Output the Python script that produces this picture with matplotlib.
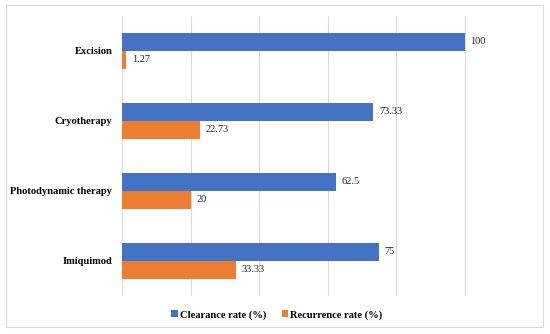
import numpy as np
import matplotlib.pyplot as plt
from matplotlib.patches import Rectangle

categories = ["Excision", "Cryotherapy", "Photodynamic therapy", "Imiquimod"]
clearance = [100, 73.33, 62.5, 75]
recurrence = [1.27, 22.73, 20, 33.33]
clearance_labels = ["100", "73.33", "62.5", "75"]
recurrence_labels = ["1.27", "22.73", "20", "33.33"]

plt.rcParams['font.family'] = ['Liberation Serif', 'DejaVu Serif']

fig = plt.figure(figsize=(5.5, 3.34), dpi=100)
# outer frame of the chart
fig.patches.append(Rectangle((6 / 550, 1 - 327 / 334), 537 / 550, 322 / 334,
                             transform=fig.transFigure, fill=False,
                             edgecolor='#d9d9d9', linewidth=0.8))

ax = fig.add_axes([122 / 550, 1 - 296 / 334, 411 / 550, 280 / 334])

y = np.arange(len(categories))
h = 18 / 70
ax.barh(y - h / 2, clearance, height=h, color='#4472C4', label='Clearance rate (%)')
ax.barh(y + h / 2, recurrence, height=h, color='#ED7D31', label='Recurrence rate (%)')

for i in range(len(categories)):
    ax.text(clearance[i] + 1.7, y[i] - h / 2, clearance_labels[i], va='center', ha='left',
            fontsize=7.5, color='#262626')
    ax.text(recurrence[i] + 1.7, y[i] + h / 2, recurrence_labels[i], va='center', ha='left',
            fontsize=7.5, color='#262626')

ax.set_xlim(0, 120)
ax.set_ylim(len(categories) - 0.5, -0.5)
ax.set_xticks(np.arange(0, 121, 20))
ax.set_xticklabels([])
ax.set_yticks(y)
ax.set_yticklabels(categories, fontweight='bold', fontsize=7.6)
ax.tick_params(axis='both', length=0)
ax.tick_params(axis='y', pad=7)
ax.grid(axis='x', color='#d9d9d9', linewidth=0.8)
ax.set_axisbelow(True)
for s in ax.spines.values():
    s.set_visible(False)

fig.legend(loc='center', bbox_to_anchor=(277 / 550, 1 - 315 / 334), ncol=2, frameon=False,
           prop={'weight': 'bold', 'size': 7.6}, handlelength=0.6, handleheight=0.6,
           handletextpad=0.2, columnspacing=1.5)

fig.savefig('out.png', dpi=100)
